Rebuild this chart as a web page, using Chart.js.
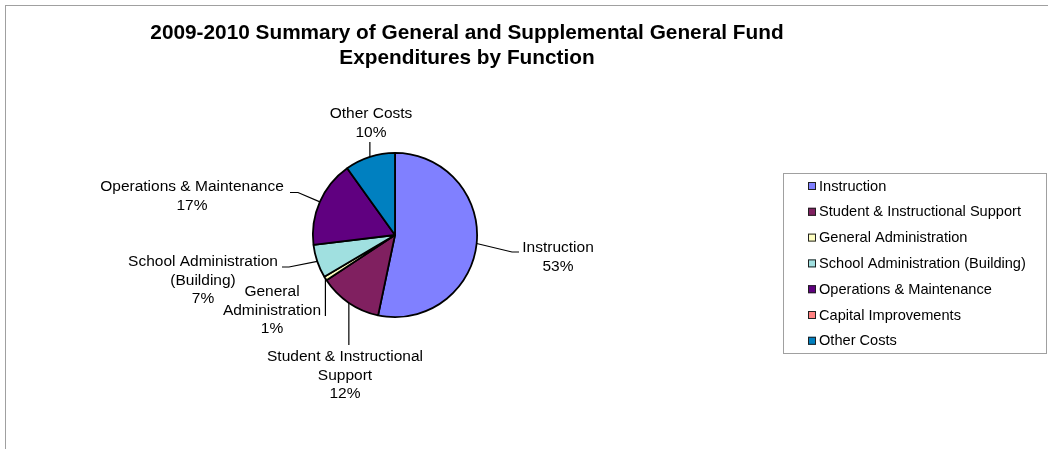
<!DOCTYPE html>
<html>
<head>
<meta charset="utf-8">
<script src="https://cdn.jsdelivr.net/npm/chart.js@4/dist/chart.umd.min.js"></script>
<style>
  html, body { margin: 0; padding: 0; background: #fff; }
  #wrap { position: relative; width: 1048px; height: 449px; overflow: hidden; }
  #frame { position: absolute; left: 5px; top: 5px; width: 1100px; height: 500px;
           border-top: 1px solid #a0a0a0; border-left: 1px solid #a0a0a0; }
  canvas { position: absolute; left: 0; top: 0; }
</style>
</head>
<body>
<div id="wrap">
  <div id="frame"></div>
  <canvas id="c" width="1048" height="449"></canvas>
</div>
<script>
// ---- data ----
const categories = [
  'Instruction',
  'Student & Instructional Support',
  'General Administration',
  'School Administration (Building)',
  'Operations & Maintenance',
  'Capital Improvements',
  'Other Costs'
];
const shares = [53.3, 12.4, 0.8, 6.6, 17.0, 0, 9.9];
const sliceColors = ['#8080FF', '#802060', '#FFFFC0', '#A0E0E0', '#600080', '#FF8080', '#0080C0'];
const titleLines = [
  '2009-2010 Summary of General and Supplemental General Fund',
  'Expenditures by Function'
];

// ---- layout for the outside labels (positions only) ----
const labelLayout = [
  { cx: 558, y0: 248, wrap: 300, path: [[512, 252], [519, 252]] },
  { cx: 345, y0: 357, wrap: 175, path: [['edge', 345]] },
  { cx: 272, y0: 292, wrap: 110, path: [['edge', 316]] },
  { cx: 203, y0: 262, wrap: 165, path: [[289, 267], [282, 267]] },
  { cx: 192, y0: 187, wrap: 300, path: [[298, 192.5], [290, 192.5]] },
  null,
  { cx: 371, y0: 114, wrap: 300, path: [['edge', 142]] }
];
const LABEL_FONT = '15.5px "Liberation Sans", Arial, sans-serif';
const LEGEND_FONT = '14.6px "Liberation Sans", Arial, sans-serif';
const TITLE_FONT = 'bold 20.8px "Liberation Sans", Arial, sans-serif';

function wrapText(ctx, text, maxW) {
  const words = text.split(' ');
  const lines = [];
  let cur = '';
  for (const w of words) {
    const t = cur ? cur + ' ' + w : w;
    if (cur && ctx.measureText(t).width > maxW) { lines.push(cur); cur = w; }
    else cur = t;
  }
  if (cur) lines.push(cur);
  return lines;
}

const decorPlugin = {
  id: 'decor',
  afterDraw(chart) {
    const ctx = chart.ctx;
    const total = shares.reduce((a, b) => a + b, 0);
    ctx.save();
    // title
    ctx.fillStyle = '#000';
    ctx.font = TITLE_FONT;
    ctx.textAlign = 'center';
    ctx.textBaseline = 'middle';
    titleLines.forEach((t, i) => ctx.fillText(t, 467, 33 + i * 25));

    // outside labels with leader lines
    const meta = chart.getDatasetMeta(0);
    meta.data.forEach((arc, i) => {
      const lay = labelLayout[i];
      if (!lay || shares[i] === 0) return;
      const p = arc.getProps(['x', 'y', 'startAngle', 'endAngle', 'outerRadius'], true);
      const mid = (p.startAngle + p.endAngle) / 2;
      const ex = p.x + Math.cos(mid) * p.outerRadius;
      const ey = p.y + Math.sin(mid) * p.outerRadius;
      ctx.strokeStyle = '#000';
      ctx.lineWidth = 1.2;
      ctx.beginPath();
      ctx.moveTo(ex, ey);
      lay.path.forEach(pt => {
        const x = pt[0] === 'edge' ? ex : pt[0];
        ctx.lineTo(x, pt[1]);
      });
      ctx.stroke();
      ctx.font = LABEL_FONT;
      ctx.fillStyle = '#000';
      ctx.textAlign = 'center';
      ctx.textBaseline = 'middle';
      const lines = wrapText(ctx, categories[i], lay.wrap);
      lines.push(Math.round(shares[i] / total * 100) + '%');
      lines.forEach((l, k) => ctx.fillText(l, lay.cx, lay.y0 + k * 18.4));
    });

    // legend box
    ctx.strokeStyle = '#a0a0a0';
    ctx.lineWidth = 1;
    ctx.strokeRect(783.5, 173.5, 263, 180);
    ctx.font = LEGEND_FONT;
    ctx.textAlign = 'left';
    ctx.textBaseline = 'middle';
    categories.forEach((c, i) => {
      const y = 186 + i * 25.8;
      ctx.fillStyle = sliceColors[i];
      ctx.fillRect(808, y - 4, 8, 8);
      ctx.strokeStyle = '#202020';
      ctx.lineWidth = 1;
      ctx.strokeRect(808.5, y - 3.5, 7, 7);
      ctx.fillStyle = '#000';
      ctx.fillText(c, 819, y + 0.5);
    });
    ctx.restore();
  }
};

new Chart(document.getElementById('c'), {
  type: 'pie',
  data: {
    labels: categories,
    datasets: [{
      data: shares,
      backgroundColor: sliceColors,
      borderColor: '#000',
      borderWidth: 1.8
    }]
  },
  options: {
    responsive: false,
    animation: false,
    events: [],
    layout: { padding: { left: 312, right: 570, top: 152, bottom: 131 } },
    plugins: { legend: { display: false }, title: { display: false }, tooltip: { enabled: false } }
  },
  plugins: [decorPlugin]
});
</script>
</body>
</html>
